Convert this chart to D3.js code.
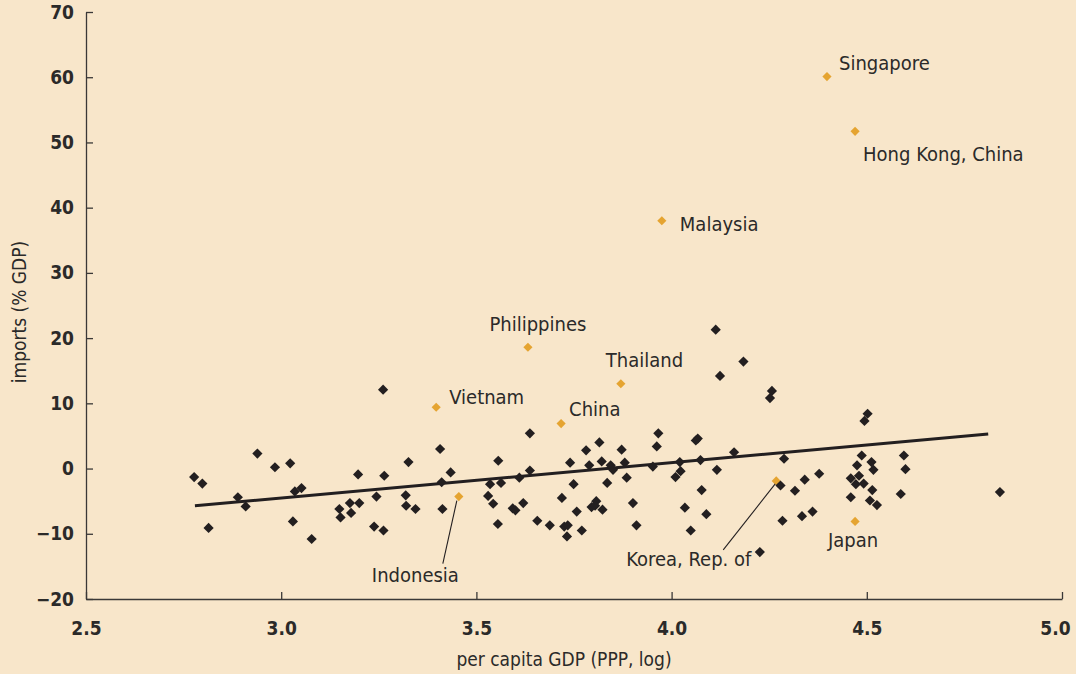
<!DOCTYPE html>
<html>
<head>
<meta charset="utf-8">
<script src="https://cdn.jsdelivr.net/npm/d3@7"></script>
<style>
  html, body { margin: 0; padding: 0; background: #f8e6ca; }
  svg { display: block; }
  text { font-family: "Liberation Sans Narrow", "DejaVu Sans Condensed", "Roboto Condensed", "Roboto", sans-serif; fill: #2b2a29; }
  .axis path, .axis line { stroke: #3a3837; stroke-width: 1.3; }
  .axis text { font-weight: bold; font-size: 19px; }
</style>
</head>
<body>
<svg width="1076" height="674"></svg>
<script>

// all other economies (log per capita GDP, imports % GDP)
const gdpLog = [2.777, 2.798, 2.814, 2.939, 2.889, 2.909, 2.984, 3.023, 3.035, 3.052,
  3.030, 3.078, 3.197, 3.264, 3.176, 3.200, 3.149, 3.152, 3.179, 3.244,
  3.238, 3.262, 3.326, 3.319, 3.320, 3.344, 3.407, 3.434, 3.411, 3.413,
  3.261, 3.637, 3.556, 3.535, 3.563, 3.530, 3.543, 3.555, 3.610, 3.637,
  3.593, 3.600, 3.620, 3.656, 3.688, 3.725, 3.734, 3.732, 3.770, 3.719,
  3.757, 3.749, 3.740, 3.781, 3.815, 3.789, 3.821, 3.835, 3.844, 3.850,
  3.872, 3.880, 3.885, 3.807, 3.795, 3.804, 3.823, 3.901, 3.910, 3.966,
  3.962, 3.952, 4.010, 4.023, 4.021, 4.067, 4.062, 4.074, 4.116, 4.077,
  4.034, 4.089, 4.049, 4.160, 4.226, 4.113, 4.124, 4.184, 4.257, 4.252,
  4.502, 4.494, 4.288, 4.279, 4.316, 4.341, 4.378, 4.284, 4.334, 4.361,
  4.487, 4.475, 4.512, 4.517, 4.480, 4.459, 4.472, 4.492, 4.514, 4.459,
  4.508, 4.526, 4.595, 4.599, 4.587, 4.841];
const importsPct = [-1.3, -2.3, -9.1, 2.3, -4.4, -5.8, 0.2, 0.8, -3.5, -3.0,
  -8.1, -10.8, -0.9, -1.1, -5.3, -5.3, -6.2, -7.5, -6.8, -4.3,
  -8.9, -9.5, 1.0, -4.1, -5.7, -6.2, 3.0, -0.6, -2.1, -6.2,
  12.1, 5.4, 1.2, -2.4, -2.2, -4.2, -5.4, -8.5, -1.4, -0.3,
  -6.1, -6.4, -5.3, -8.0, -8.7, -8.9, -8.7, -10.4, -9.5, -4.5,
  -6.6, -2.4, 0.9, 2.8, 4.0, 0.5, 1.1, -2.2, 0.5, -0.2,
  2.9, 0.9, -1.4, -5.0, -5.9, -5.7, -6.3, -5.3, -8.7, 5.4,
  3.4, 0.3, -1.3, -0.4, 1.0, 4.6, 4.3, 1.3, -0.2, -3.3,
  -6.0, -7.0, -9.5, 2.5, -12.8, 21.3, 14.2, 16.4, 11.9, 10.8,
  8.4, 7.3, 1.5, -2.6, -3.4, -1.7, -0.8, -8.0, -7.3, -6.6,
  2.0, 0.5, 1.0, -0.2, -1.1, -1.5, -2.4, -2.3, -3.3, -4.4,
  -4.9, -5.6, 2.0, -0.1, -3.9, -3.6];

// East Asian economies, highlighted
const asiaNames = ["Singapore", "Hong Kong, China", "Malaysia", "Philippines", "Thailand",
  "Vietnam", "China", "Indonesia", "Korea, Rep. of", "Japan"];
const asiaGdpLog = [4.398, 4.470, 3.975, 3.632, 3.870, 3.397, 3.717, 3.455, 4.268, 4.470];
const asiaImports = [60.1, 51.7, 38.0, 18.6, 13.0, 9.4, 6.9, -4.3, -1.9, -8.1];

// fitted regression line end points
const trendGdp = [2.779, 4.811];
const trendImports = [-5.7, 5.3];

const xTicks = [2.5, 3.0, 3.5, 4.0, 4.5, 5.0];
const yTicks = [-20, -10, 0, 10, 20, 30, 40, 50, 60, 70];

const xTitle = "per capita GDP (PPP, log)";
const yTitle = "imports (% GDP)";

// label placement relative to each highlighted point (pixels)
const labelLayout = {
  "Singapore":        { dx: 12,   dy: -7,  anchor: "start" },
  "Hong Kong, China": { dx: 8,    dy: 30,  anchor: "start" },
  "Malaysia":         { dx: 18,   dy: 10,  anchor: "start" },
  "Philippines":      { dx: 10,   dy: -16, anchor: "middle" },
  "Thailand":         { dx: -15,  dy: -17, anchor: "start" },
  "Vietnam":          { dx: 13,   dy: -3,  anchor: "start" },
  "China":            { dx: 8,    dy: -8,  anchor: "start" },
  "Indonesia":        { dx: -87,  dy: 85,  anchor: "start", leader: [-2, 4, -16, 67] },
  "Korea, Rep. of":   { dx: -150, dy: 85,  anchor: "start", leader: [-1, 3, -53, 69] },
  "Japan":            { dx: -2,   dy: 26,  anchor: "middle" }
};

const color_black = "#231f20";
const color_asia = "#e5a431";

const svg = d3.select("svg");
const width = +svg.attr("width");
const height = +svg.attr("height");
const margin = { top: 12, right: 14, bottom: 75, left: 86 };

const x = d3.scaleLinear().domain([2.5, 5.0]).range([margin.left, width - margin.right]);
const y = d3.scaleLinear().domain([-20, 70]).range([height - margin.bottom, margin.top]);

function drawAxes() {
  svg.append("g")
      .attr("class", "axis x")
      .attr("transform", "translate(0," + (height - margin.bottom) + ")")
      .call(d3.axisBottom(x).tickValues(xTicks).tickFormat(d3.format(".1f"))
              .tickSizeInner(-7).tickSizeOuter(0).tickPadding(23));

  // last label sits against the right edge
  svg.selectAll(".axis.x .tick text")
      .filter(function(d) { return d === xTicks[xTicks.length - 1]; })
      .attr("dx", -7);

  svg.append("g")
      .attr("class", "axis y")
      .attr("transform", "translate(" + margin.left + ",0)")
      .call(d3.axisLeft(y).tickValues(yTicks)
              .tickSizeInner(-7).tickSizeOuter(0).tickPadding(12));

  svg.selectAll(".axis .domain").attr("stroke-width", 1.6);

  svg.append("text")
      .attr("x", (margin.left + width - margin.right) / 2 - 10)
      .attr("y", height - 8)
      .attr("text-anchor", "middle")
      .style("font-size", "19px")
      .text(xTitle);

  svg.append("text")
      .attr("transform", "translate(26," + 312 + ") rotate(-90)")
      .attr("text-anchor", "middle")
      .style("font-size", "19px")
      .text(yTitle);
}

function drawTrend() {
  const line = d3.line()
      .x(function(d) { return x(d[0]); })
      .y(function(d) { return y(d[1]); });

  svg.append("path")
      .datum(d3.zip(trendGdp, trendImports))
      .attr("d", line)
      .attr("fill", "none")
      .attr("stroke", color_black)
      .attr("stroke-width", 3);
}

function drawPoints(xs, ys, fill, size) {
  const sym = d3.symbol().type(d3.symbolSquare).size(size);
  svg.append("g").selectAll("path")
      .data(d3.zip(xs, ys))
      .enter().append("path")
      .attr("d", sym)
      .attr("transform", function(d) { return "translate(" + x(d[0]) + "," + y(d[1]) + ") rotate(45)"; })
      .attr("fill", fill);
}

function drawLabels() {
  const items = d3.zip(asiaNames, asiaGdpLog, asiaImports);

  // leader lines for labels set away from the point
  svg.append("g").selectAll("line")
      .data(items.filter(function(d) { return labelLayout[d[0]].leader; }))
      .enter().append("line")
      .attr("x1", function(d) { return x(d[1]) + labelLayout[d[0]].leader[0]; })
      .attr("y1", function(d) { return y(d[2]) + labelLayout[d[0]].leader[1]; })
      .attr("x2", function(d) { return x(d[1]) + labelLayout[d[0]].leader[2]; })
      .attr("y2", function(d) { return y(d[2]) + labelLayout[d[0]].leader[3]; })
      .attr("stroke", color_black)
      .attr("stroke-width", 1.1);

  svg.append("g").selectAll("text")
      .data(items)
      .enter().append("text")
      .attr("x", function(d) { return x(d[1]) + labelLayout[d[0]].dx; })
      .attr("y", function(d) { return y(d[2]) + labelLayout[d[0]].dy; })
      .attr("text-anchor", function(d) { return labelLayout[d[0]].anchor; })
      .style("font-size", "20px")
      .text(function(d) { return d[0]; });
}

drawAxes();
drawTrend();
drawPoints(asiaGdpLog, asiaImports, color_asia, 42);
drawPoints(gdpLog, importsPct, color_black, 52);
drawLabels();

</script>
</body>
</html>
